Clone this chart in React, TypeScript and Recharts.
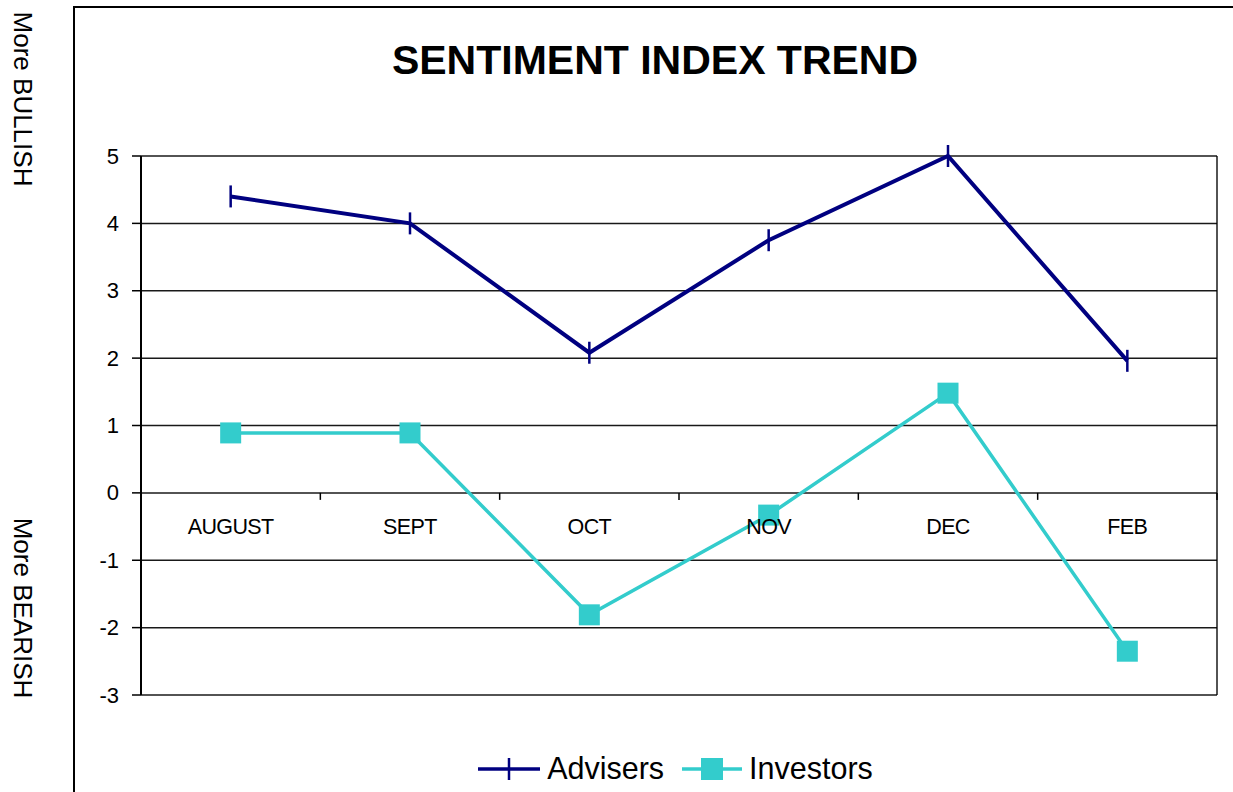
import { LineChart, Line, XAxis, YAxis, CartesianGrid, Legend } from 'recharts';

const months = ['AUGUST', 'SEPT', 'OCT', 'NOV', 'DEC', 'FEB'];
const advisers = [4.4, 4.0, 2.08, 3.75, 5.0, 1.96];
const investors = [0.89, 0.89, -1.81, -0.33, 1.48, -2.35];
const yTicks = [5, 4, 3, 2, 1, 0, -1, -2, -3];

const data = months.map((m, i) => ({ month: m, Advisers: advisers[i], Investors: investors[i] }));

const W = 1233;
const H = 792;
const X_AXIS_H = 1;
const margin = { top: 156, right: 16, bottom: 97 - X_AXIS_H, left: 81 };
const Y_AXIS_W = 60;
const PLOT_LEFT = margin.left + Y_AXIS_W;
const PLOT_W = W - margin.right - PLOT_LEFT;
const PLOT_H = H - margin.top - margin.bottom - X_AXIS_H;
const Y_MIN = -3;
const Y_MAX = 5;
const zeroY = margin.top + ((Y_MAX - 0) / (Y_MAX - Y_MIN)) * PLOT_H;
const bandW = PLOT_W / months.length;

const NAVY = '#000080';
const TEAL = '#33CCCC';
const FONT = '"Liberation Sans", Arial, sans-serif';

const PlusDot = (props: any) => {
  const { cx, cy } = props;
  if (cx == null || cy == null) return null;
  return <line x1={cx} x2={cx} y1={cy - 11} y2={cy + 11} stroke={NAVY} strokeWidth={2.5} />;
};

const SquareDot = (props: any) => {
  const { cx, cy } = props;
  if (cx == null || cy == null) return null;
  return <rect x={cx - 10.5} y={cy - 10.5} width={21} height={21} fill={TEAL} />;
};

const MonthTick = (props: any) => {
  const { x, payload } = props;
  return (
    <g>
      <line x1={x + bandW / 2} x2={x + bandW / 2} y1={zeroY} y2={zeroY + 7} stroke="#000" strokeWidth={1.5} />
      <text x={x} y={zeroY + 34} textAnchor="middle" dominantBaseline="central" fontSize={21.5} letterSpacing={-0.6} fill="#000" fontFamily={FONT}>
        {payload.value}
      </text>
    </g>
  );
};

const ValueTick = (props: any) => {
  const { x, y, payload } = props;
  return (
    <text x={x} y={y} textAnchor="end" dominantBaseline="central" fontSize={22} fill="#000" fontFamily={FONT}>
      {payload.value}
    </text>
  );
};

const LegendContent = () => (
  <div style={{ display: 'flex', justifyContent: 'center', alignItems: 'center', fontFamily: FONT, fontSize: 30.5, color: '#000' }}>
    <svg width={62} height={30} style={{ marginRight: 7 }}>
      <line x1={0} x2={62} y1={15} y2={15} stroke={NAVY} strokeWidth={3.5} />
      <line x1={31} x2={31} y1={4} y2={26} stroke={NAVY} strokeWidth={2.5} />
    </svg>
    <span style={{ marginRight: 18 }}>Advisers</span>
    <svg width={60} height={30} style={{ marginRight: 7 }}>
      <line x1={0} x2={60} y1={15} y2={15} stroke={TEAL} strokeWidth={3.5} />
      <rect x={19} y={4} width={22} height={22} fill={TEAL} />
    </svg>
    <span>Investors</span>
  </div>
);

export default function App() {
  return (
    <div style={{ position: 'absolute', left: 0, top: 0, width: W, height: H, overflow: 'hidden', background: '#fff', fontFamily: FONT }}>
      <div style={{ position: 'absolute', left: 73, top: 6, width: 1300, height: 900, borderLeft: '2px solid #000', borderTop: '2px solid #000' }} />
      <div style={{ position: 'absolute', left: 22, top: 99, transform: 'translate(-50%, -50%) rotate(90deg)', whiteSpace: 'nowrap', fontSize: 26, color: '#000' }}>
        More BULLISH
      </div>
      <div style={{ position: 'absolute', left: 22, top: 608, transform: 'translate(-50%, -50%) rotate(90deg)', whiteSpace: 'nowrap', fontSize: 26, color: '#000' }}>
        More BEARISH
      </div>
      <div style={{ position: 'absolute', left: 0, width: 1310, top: 37, textAlign: 'center', fontSize: 41, fontWeight: 'bold', color: '#000' }}>
        SENTIMENT INDEX TREND
      </div>
      <div style={{ position: 'absolute', left: 0, top: 0 }}>
        <LineChart width={W} height={H} data={data} margin={margin}>
          <CartesianGrid
            stroke="#000"
            strokeWidth={1.5}
            strokeOpacity={0.9}
            verticalCoordinatesGenerator={(p: any) => [p?.offset ? p.offset.left + p.offset.width : PLOT_LEFT + PLOT_W]}
          />
          <YAxis
            type="number"
            domain={[Y_MIN, Y_MAX]}
            ticks={yTicks}
            interval={0}
            width={Y_AXIS_W}
            tickSize={9}
            tickMargin={13}
            axisLine={{ stroke: '#000', strokeWidth: 2 }}
            tickLine={{ stroke: '#000', strokeWidth: 1.5 }}
            tick={<ValueTick />}
          />
          <Line
            dataKey="Advisers"
            stroke={NAVY}
            strokeWidth={4}
            dot={<PlusDot />}
            activeDot={false}
            isAnimationActive={false}
          />
          <Line
            dataKey="Investors"
            stroke={TEAL}
            strokeWidth={3.5}
            dot={<SquareDot />}
            activeDot={false}
            isAnimationActive={false}
          />
          <XAxis
            dataKey="month"
            type="category"
            scale="band"
            height={X_AXIS_H}
            axisLine={false}
            tickLine={false}
            interval={0}
            tick={<MonthTick />}
          />
          <Legend
            layout="horizontal"
            verticalAlign="middle"
            align="center"
            content={<LegendContent />}
            wrapperStyle={{ top: 751, left: 59, width: W, height: 36 }}
          />
        </LineChart>
      </div>
    </div>
  );
}
